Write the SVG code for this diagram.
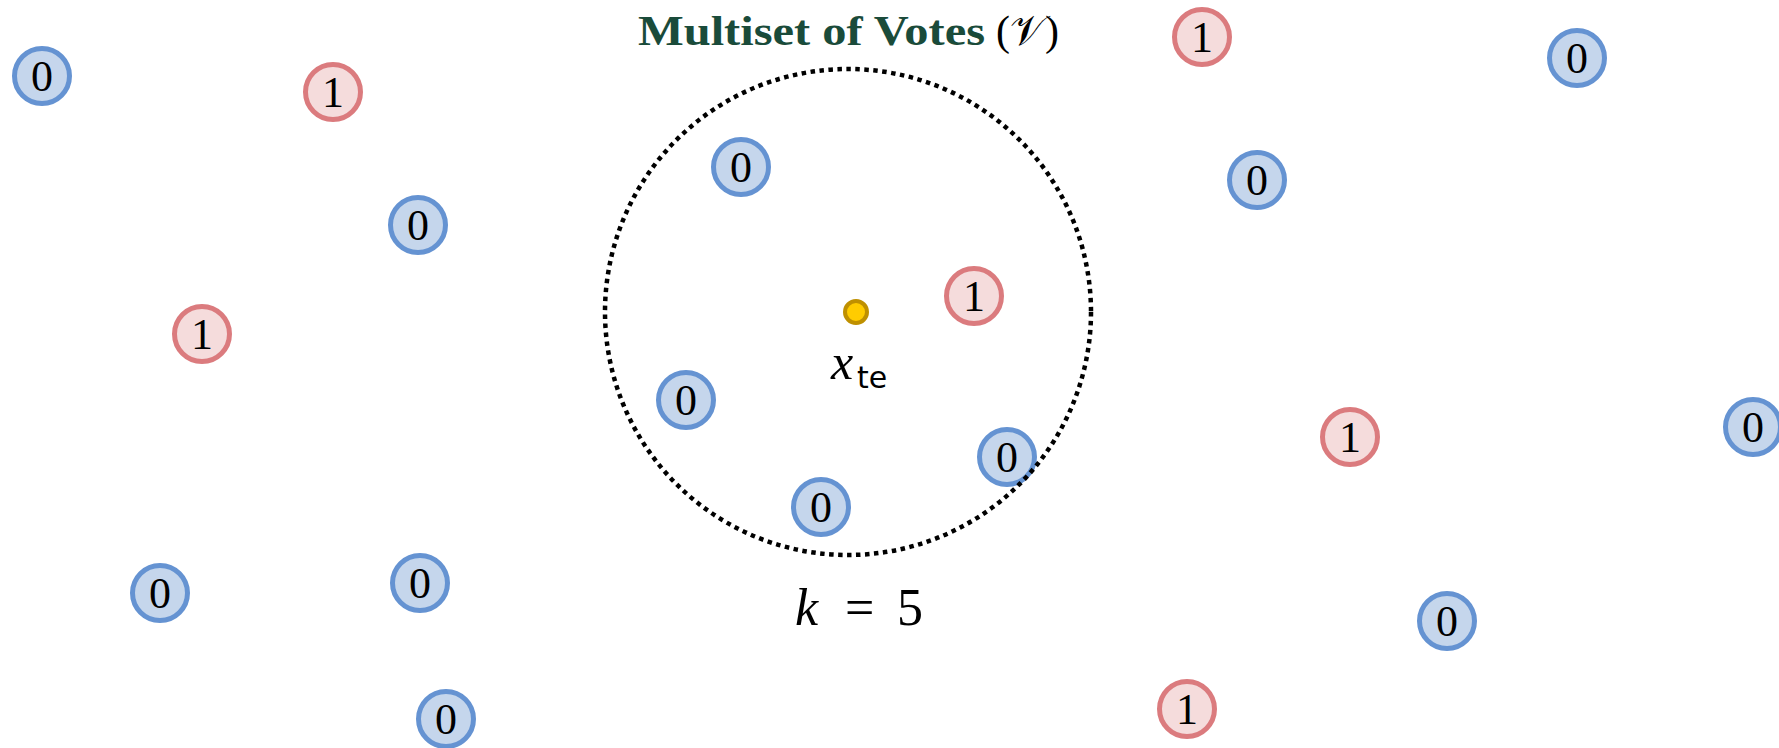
<svg xmlns="http://www.w3.org/2000/svg" width="1779" height="748" viewBox="0 0 1779 748">
<style>
.n0 circle{fill:#c5d6ec;stroke:#6593d2;stroke-width:5}
.n1 circle{fill:#f5dcdc;stroke:#db7b7e;stroke-width:5}
.lbl{font-family:"Liberation Serif",serif;font-size:44px;fill:#000;text-anchor:middle}
.title{font-family:"Liberation Serif",serif;font-weight:bold;font-size:42px;fill:#1a4b3a}
.math{font-family:"Liberation Serif",serif;fill:#000}
</style>
<rect width="1779" height="748" fill="#fff"/>
<g id="nodes">
<g id="a1" class="n0"><circle cx="42" cy="76" r="27.5"/><text class="lbl" x="42" y="91">0</text></g>
<g id="a2" class="n1"><circle cx="333" cy="92" r="27.5"/><text class="lbl" x="333" y="107">1</text></g>
<g id="a3" class="n0"><circle cx="418" cy="225" r="27.5"/><text class="lbl" x="418" y="240">0</text></g>
<g id="a4" class="n1"><circle cx="202" cy="334" r="27.5"/><text class="lbl" x="202" y="349">1</text></g>
<g id="a5" class="n0"><circle cx="160" cy="593" r="27.5"/><text class="lbl" x="160" y="608">0</text></g>
<g id="a6" class="n0"><circle cx="420" cy="583" r="27.5"/><text class="lbl" x="420" y="598">0</text></g>
<g id="a7" class="n0"><circle cx="446" cy="719" r="27.5"/><text class="lbl" x="446" y="734">0</text></g>
<g id="b1" class="n0"><circle cx="741" cy="167" r="27.5"/><text class="lbl" x="741" y="182">0</text></g>
<g id="b2" class="n1"><circle cx="974" cy="296" r="27.5"/><text class="lbl" x="974" y="311">1</text></g>
<g id="b3" class="n0"><circle cx="686" cy="400" r="27.5"/><text class="lbl" x="686" y="415">0</text></g>
<g id="b4" class="n0"><circle cx="1007" cy="457" r="27.5"/><text class="lbl" x="1007" y="472">0</text></g>
<g id="b5" class="n0"><circle cx="821" cy="507" r="27.5"/><text class="lbl" x="821" y="522">0</text></g>
<g id="c1" class="n1"><circle cx="1202" cy="37" r="27.5"/><text class="lbl" x="1202" y="52">1</text></g>
<g id="c2" class="n0"><circle cx="1577" cy="58" r="27.5"/><text class="lbl" x="1577" y="73">0</text></g>
<g id="c3" class="n0"><circle cx="1257" cy="180" r="27.5"/><text class="lbl" x="1257" y="195">0</text></g>
<g id="c4" class="n1"><circle cx="1350" cy="437" r="27.5"/><text class="lbl" x="1350" y="452">1</text></g>
<g id="c5" class="n0"><circle cx="1753" cy="427" r="27.5"/><text class="lbl" x="1753" y="442">0</text></g>
<g id="c6" class="n0"><circle cx="1447" cy="621" r="27.5"/><text class="lbl" x="1447" y="636">0</text></g>
<g id="c7" class="n1"><circle cx="1187" cy="709" r="27.5"/><text class="lbl" x="1187" y="724">1</text></g>
</g>
<g id="neighbourhood">
<circle cx="848" cy="312" r="243" fill="none" stroke="#000" stroke-width="4.5" stroke-dasharray="4.5 4.5"/>
</g>
<g id="query">
<circle cx="856" cy="312" r="11" fill="#ffcc00" stroke="#bf9000" stroke-width="4"/>
<text class="math" x="831" y="379" font-size="50" font-style="italic">x</text>
<text x="857" y="388" font-family="'DejaVu Sans',sans-serif" font-size="30" fill="#000">te</text>
</g>
<g id="title">
<text class="title" x="638" y="45" textLength="347" lengthAdjust="spacingAndGlyphs">Multiset of Votes</text>
<text class="math" x="996" y="45" font-size="42">(𝒱)</text>
</g>
<g id="klabel">
<text class="math" y="625" font-size="52"><tspan x="795" font-style="italic">k</tspan><tspan x="845">=</tspan><tspan x="897">5</tspan></text>
</g>
</svg>
